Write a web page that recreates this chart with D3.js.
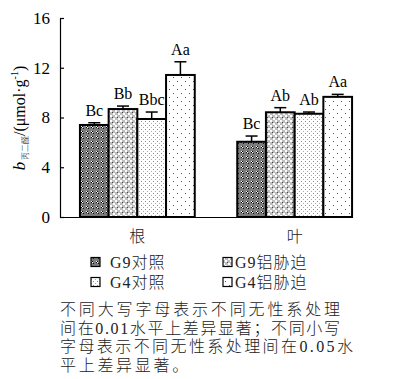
<!DOCTYPE html>
<html><head><meta charset="utf-8">
<script src="https://cdn.jsdelivr.net/npm/d3@7"></script>
<style>
body{margin:0;background:#fff;}
svg{display:block;}
</style></head>
<body>
<svg id="c" width="402" height="379"></svg>
<script>
const categories = ["根", "叶"];
const series = ["G9对照", "G9铝胁迫", "G4对照", "G4铝胁迫"];
const values = {
  "根": [7.4, 8.68, 7.88, 11.42],
  "叶": [6.05, 8.42, 8.3, 9.66]
};
const errors = {
  "根": [0.18, 0.24, 0.56, 1.06],
  "叶": [0.46, 0.37, 0.14, 0.2]
};
const letters = {
  "根": ["Bc", "Bb", "Bbc", "Aa"],
  "叶": ["Bc", "Ab", "Ab", "Aa"]
};
const yTicks = [0, 4, 8, 12, 16];
const noteLines = [
  "不同大写字母表示不同无性系处理",
  "间在0.01水平上差异显著；不同小写",
  "字母表示不同无性系处理间在0.05水",
  "平上差异显著。"
];

const serif = "'Liberation Serif','Noto Sans CJK SC',serif";
const cjk = "'Liberation Serif','Noto Sans CJK SC',sans-serif";
const svg = d3.select("#c");
const defs = svg.append("defs");

// patterns
const p1 = defs.append("pattern").attr("id","p0").attr("patternUnits","userSpaceOnUse").attr("width",5).attr("height",5);
p1.append("rect").attr("width",5).attr("height",5).attr("fill","#7c7c7c");
p1.append("rect").attr("x",1).attr("y",1).attr("width",1).attr("height",1).attr("fill","#fff");
p1.append("rect").attr("x",2).attr("y",2).attr("width",1).attr("height",1).attr("fill","#fff");
p1.append("rect").attr("x",2).attr("y",1).attr("width",1).attr("height",1).attr("fill","#000");
p1.append("rect").attr("x",1).attr("y",2).attr("width",1).attr("height",1).attr("fill","#000");
p1.append("rect").attr("x",3).attr("y",3).attr("width",1).attr("height",1).attr("fill","#111");

const p2 = defs.append("pattern").attr("id","p1").attr("patternUnits","userSpaceOnUse").attr("width",5).attr("height",5);
p2.append("rect").attr("width",5).attr("height",5).attr("fill","#bdbdbd");
p2.append("rect").attr("x",0).attr("y",0).attr("width",2).attr("height",2).attr("fill","#fff");
p2.append("rect").attr("x",3).attr("y",3).attr("width",2).attr("height",2).attr("fill","#fff");
p2.append("rect").attr("x",2).attr("y",2).attr("width",1).attr("height",1).attr("fill","#444");

const p3 = defs.append("pattern").attr("id","p2").attr("patternUnits","userSpaceOnUse").attr("width",4).attr("height",4);
p3.append("rect").attr("width",4).attr("height",4).attr("fill","#fff");
p3.append("rect").attr("x",1).attr("y",1).attr("width",1).attr("height",1).attr("fill","#888");
p3.append("rect").attr("x",3).attr("y",3).attr("width",1).attr("height",1).attr("fill","#aaa");

const p4 = defs.append("pattern").attr("id","p3").attr("patternUnits","userSpaceOnUse").attr("width",8).attr("height",8);
p4.append("rect").attr("width",8).attr("height",8).attr("fill","#fff");
p4.append("rect").attr("x",1).attr("y",1).attr("width",1).attr("height",1).attr("fill","#555");
p4.append("rect").attr("x",5).attr("y",5).attr("width",1).attr("height",1).attr("fill","#555");

const y = d3.scaleLinear().domain([0,16]).range([217,18]);
const x0 = d3.scaleBand().domain(categories).range([58.7,373.3]).paddingInner(0.27).paddingOuter(0.135);
const x1 = d3.scaleBand().domain(series).range([0, x0.bandwidth()]);

// bars
const g = svg.append("g");
categories.forEach(cat => {
  series.forEach((s,i) => {
    const v = values[cat][i], e = errors[cat][i];
    const bx = x0(cat) + x1(s);
    const cx = bx + x1.bandwidth()/2;
    g.append("line").attr("x1",cx).attr("x2",cx).attr("y1",y(v)).attr("y2",y(v+e)).attr("stroke","#000").attr("stroke-width",1.5);
    g.append("line").attr("x1",cx-6).attr("x2",cx+6).attr("y1",y(v+e)).attr("y2",y(v+e)).attr("stroke","#000").attr("stroke-width",1.5);
    g.append("rect").attr("x",bx).attr("y",y(v)).attr("width",x1.bandwidth()).attr("height",y(0)-y(v))
      .attr("fill",`url(#p${i})`).attr("stroke","#000").attr("stroke-width",2);
    g.append("text").attr("x",cx).attr("y",y(v+e)-7).attr("text-anchor","middle")
      .attr("font-family",serif).attr("font-size",16).text(letters[cat][i]);
  });
});

// y axis
const yAxis = d3.axisLeft(y).tickValues(yTicks).tickSize(-4).tickPadding(10).tickSizeOuter(0);
const ya = svg.append("g").attr("transform","translate(60,0)").call(yAxis);
ya.select(".domain").attr("stroke","#000").attr("stroke-width",1.2);
ya.selectAll(".tick line").attr("stroke","#000").attr("stroke-width",1.2);
ya.selectAll(".tick text").attr("font-family",serif).attr("font-size",17).attr("fill","#000").attr("x",-10);

// x axis
const xAxis = d3.axisBottom(x0).tickSize(0).tickPadding(14);
const xa = svg.append("g").attr("transform","translate(0,217)").call(xAxis);
xa.select(".domain").attr("d", `M60,0.5H${x0("叶")+x0.bandwidth()}`).attr("stroke","#000").attr("stroke-width",1.2);
xa.selectAll(".tick text").attr("font-family",cjk).attr("font-size",16).attr("font-weight",300).attr("fill","#222");

// y label
const yl = svg.append("text").attr("transform","translate(25,118) rotate(-90)").attr("text-anchor","middle")
  .attr("font-family",serif).attr("font-size",16);
yl.append("tspan").attr("font-style","italic").attr("font-size",17).text("b");
yl.append("tspan").attr("font-size",8).attr("dy",3).attr("font-family","'Noto Sans CJK SC',sans-serif").attr("font-weight",300).text(" 丙二醛");
yl.append("tspan").attr("dy",-3).text("/(μmol·g");
yl.append("tspan").attr("font-size",10).attr("dy",-7).text("-1");
yl.append("tspan").attr("dy",7).text(")");

// legend
const legPos = [[91,262],[223,262],[91,282],[223,282]];
const legTextX = [110, 235, 110, 235];
series.forEach((s,i) => {
  const [lx,ly] = legPos[i];
  svg.append("rect").attr("x",lx).attr("y",ly-4.5).attr("width",9).attr("height",9)
    .attr("fill",`url(#p${i})`).attr("stroke","#000").attr("stroke-width",1.2);
  svg.append("text").attr("x",legTextX[i]).attr("y",ly+5.5).attr("font-family",cjk).attr("font-size",16)
    .attr("font-weight",300).attr("fill","#222").attr("letter-spacing",1).text(s);
});

// note
const noteW = [280, 280, 293, null];
noteLines.forEach((t,i) => {
  const tx = svg.append("text").attr("x",60).attr("y",315+i*18.5).attr("font-family",cjk).attr("font-size",16)
    .attr("font-weight",300).attr("fill","#222").text(t);
  if (noteW[i]) tx.attr("textLength",noteW[i]).attr("lengthAdjust","spacing");
  else tx.attr("letter-spacing",2.7);
});
</script>
</body></html>
